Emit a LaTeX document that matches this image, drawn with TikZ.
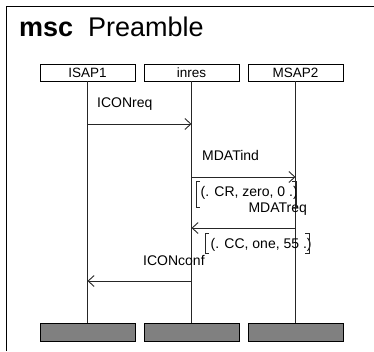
\documentclass[tikz,border=0pt]{standalone}
\usepackage{fontspec}
\setmainfont{Liberation Sans}
\usetikzlibrary{arrows.meta}

\tikzset{
  lbl/.style={font=\fontsize{14}{16}\selectfont, inner sep=0pt, anchor=base west},
  instbox/.style={draw, line width=0.9pt, minimum width=95pt, minimum height=17pt,
                  inner sep=0pt, font=\fontsize{13.5}{16}\selectfont},
  endbox/.style={draw, line width=0.9pt, fill=black!50,
                 minimum width=95pt, minimum height=18pt, inner sep=0pt},
  lifeline/.style={line width=0.9pt, draw=black!85},
  msg/.style={line width=0.9pt, draw=black!85,
              -{Straight Barb[length=6pt,width=11pt,line width=0.9pt]}},
  brk/.style={line width=0.9pt, draw=black!85}
}

\begin{document}
\begin{tikzpicture}[x=1pt,y=-1pt]
  \useasboundingbox (0,0) rectangle (374,351);

  % diagram frame (runs off the right and bottom edges)
  \draw[line width=1pt] (6,351) -- (6,6.5) -- (374,6.5);

  % heading
  \node[lbl, font=\fontsize{27}{30}\selectfont\bfseries] (kw) at (19,36) {msc};
  \node[lbl, font=\fontsize{27}{30}\selectfont] (name) at (88,36) {Preamble};

  % instance heads
  \node[instbox] (isap1) at (87.5,72.5) {ISAP1};
  \node[instbox] (inres) at (191.5,72.5) {inres};
  \node[instbox] (msap2) at (295.5,72.5) {MSAP2};

  % instance ends
  \node[endbox] (isap1e) at (87.5,332) {};
  \node[endbox] (inrese) at (191.5,332) {};
  \node[endbox] (msap2e) at (295.5,332) {};

  % lifelines
  \draw[lifeline] (isap1.south) -- (isap1e.north);
  \draw[lifeline] (inres.south) -- (inrese.north);
  \draw[lifeline] (msap2.south) -- (msap2e.north);

  % message end points on the lifelines
  \coordinate (m1a) at (isap1 |- 0,124);
  \coordinate (m1b) at (inres |- 0,124);
  \coordinate (m2a) at (inres |- 0,177);
  \coordinate (m2b) at (msap2 |- 0,177);
  \coordinate (m3a) at (msap2 |- 0,228);
  \coordinate (m3b) at (inres |- 0,228);
  \coordinate (m4a) at (inres |- 0,281);
  \coordinate (m4b) at (isap1 |- 0,281);

  % messages
  \draw[msg] (m1a) -- (m1b);
  \node[lbl] (l1) at (97,107.5) {ICONreq};

  \draw[msg] (m2a) -- (m2b);
  \node[lbl] (l2) at (202,160.5) {MDATind};

  \draw[msg] (m3a) -- (m3b);
  \node[lbl] (l3) at (248.3,212) {MDATreq};

  \draw[msg] (m4a) -- (m4b);
  \node[lbl] (l4) at (143,265) {ICONconf};

  % parameter lists with brackets
  \node[lbl] (p1) at (200.5,196) {(. CR, zero, 0 .)};
  \draw[brk] (200,181) -- (196,181) -- (196,207) -- (200,207);
  \draw[brk] (292,181) -- (296,181) -- (296,207) -- (292,207);

  \node[lbl] (p2) at (210.5,248.3) {(. CC, one, 55 .)};
  \draw[brk] (209,233) -- (205,233) -- (205,253) -- (209,253);
  \draw[brk] (305,233) -- (309,233) -- (309,253) -- (305,253);
\end{tikzpicture}
\end{document}
